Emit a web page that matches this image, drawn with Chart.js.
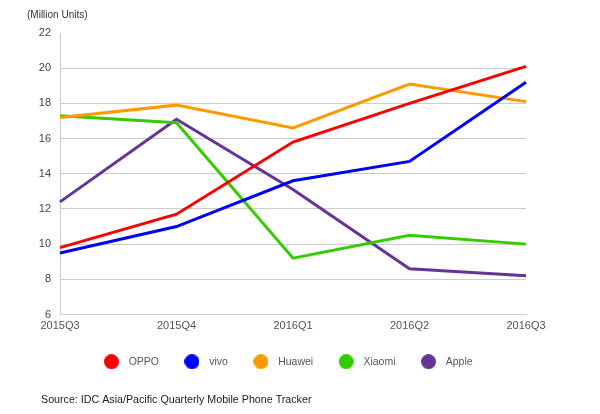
<!DOCTYPE html>
<html lang="en">
<head>
  <meta charset="UTF-8">
  <title>Smartphone Shipments</title>
  <script src="https://cdn.jsdelivr.net/npm/chart.js"></script>
  <style>
    body { margin: 0; background: #fff; }
  </style>
</head>
<body>
  <canvas id="chart" width="600" height="414"></canvas>

  <script>
    const quarters = ['2015Q3', '2015Q4', '2016Q1', '2016Q2', '2016Q3'];
    const oppo = [9.8, 11.7, 15.8, 18.0, 20.1];
    const vivo = [9.5, 11.0, 13.6, 14.7, 19.2];
    const huawei = [17.2, 17.9, 16.6, 19.1, 18.1];
    const xiaomi = [17.3, 16.9, 9.2, 10.5, 10.0];
    const apple = [12.4, 17.1, 13.1, 8.6, 8.2];

    const font = 'Arial, "Liberation Sans", sans-serif';

    function series(label, data, color) {
      return {
        label: label,
        data: data,
        borderColor: color,
        backgroundColor: color,
        borderWidth: 3,
        pointRadius: 0,
        pointHoverRadius: 0,
        tension: 0,
        fill: false
      };
    }

    // small round dot for the legend, so the text can sit a bit further away
    function dot(color) {
      const c = document.createElement('canvas');
      c.width = 15;
      c.height = 15;
      const g = c.getContext('2d');
      g.fillStyle = color;
      g.beginPath();
      g.arc(7.5, 7.5, 7.5, 0, Math.PI * 2);
      g.fill();
      return c;
    }

    // title + source line, and push the legend over like the original
    const extras = {
      id: 'extras',
      afterLayout(chart) {
        chart.legend.left += 23;
        chart.legend.right += 23;
      },
      afterDraw(chart) {
        const ctx = chart.ctx;
        ctx.save();
        ctx.textBaseline = 'middle';
        ctx.font = '10px ' + font;
        ctx.fillStyle = '#333';
        ctx.fillText('(Million Units)', 27, 15);
        ctx.font = '10.7px ' + font;
        ctx.fillStyle = '#222';
        ctx.fillText('Source: IDC Asia/Pacific Quarterly Mobile Phone Tracker', 41, 400);
        ctx.restore();
      }
    };

    new Chart(document.getElementById('chart'), {
      type: 'line',
      data: {
        labels: quarters,
        datasets: [
          series('OPPO', oppo, '#ff0000'),
          series('vivo', vivo, '#0000ff'),
          series('Huawei', huawei, '#ff9900'),
          series('Xiaomi', xiaomi, '#33cc00'),
          series('Apple', apple, '#663399')
        ]
      },
      options: {
        responsive: false,
        animation: false,
        layout: { padding: { top: 33, right: 74, bottom: 37, left: 0 } },
        plugins: {
          tooltip: { enabled: false },
          legend: {
            position: 'bottom',
            labels: {
              usePointStyle: true,
              boxHeight: 10,
              pointStyleWidth: 24,
              padding: 21,
              color: '#555',
              font: { family: font, size: 10.5 },
              generateLabels(chart) {
                const items = Chart.defaults.plugins.legend.labels.generateLabels(chart);
                items.forEach(it => {
                  it.pointStyle = dot(it.fillStyle);
                  it.lineWidth = 0;
                });
                return items;
              }
            }
          }
        },
        scales: {
          x: {
            grid: { display: false, drawTicks: false },
            border: { color: '#ccc' },
            ticks: { color: '#555', padding: 5, maxRotation: 0, font: { family: font, size: 11 } },
            afterFit(scale) { scale.height = 21; }
          },
          y: {
            min: 6,
            max: 22,
            ticks: { stepSize: 2, color: '#444', padding: 9, font: { family: font, size: 11 } },
            grid: {
              drawTicks: false,
              color: ctx => (ctx.tick && ctx.tick.value === 22) ? 'rgba(0,0,0,0)' : '#ccc'
            },
            border: { color: '#ccc' },
            afterFit(scale) { scale.width = 60; }
          }
        }
      },
      plugins: [extras]
    });
  </script>
</body>
</html>
